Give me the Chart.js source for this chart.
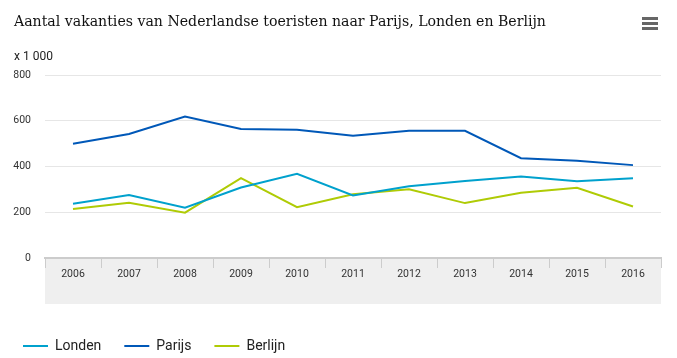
<!DOCTYPE html>
<html>
<head>
<meta charset="utf-8">
<title>Aantal vakanties</title>
<script src="https://cdn.jsdelivr.net/npm/chart.js@4/dist/chart.umd.min.js"></script>
<style>
  html, body { margin: 0; padding: 0; background: #fff; }
  #wrap { position: relative; width: 677px; height: 358px; }
</style>
</head>
<body>
<div id="wrap">
  <canvas id="vakantiesGraph" width="677" height="358"></canvas>
</div>
<script>
const titleText = "Aantal vakanties van Nederlandse toeristen naar Parijs, Londen en Berlijn";
const unitText = "x 1 000";
const years = ["2006", "2007", "2008", "2009", "2010", "2011", "2012", "2013", "2014", "2015", "2016"];
const londen = [237, 275, 220, 308, 368, 273, 314, 337, 356, 335, 349];
const parijs = [499, 542, 618, 564, 561, 534, 556, 556, 436, 425, 406];
const berlijn = [214, 241, 198, 349, 222, 279, 300, 240, 285, 307, 225];
const yTicks = [0, 200, 400, 600, 800];

const sansFont = "Roboto, 'Liberation Sans', sans-serif";

// grey band behind the year labels, title, unit label and the menu icon
const decorPlugin = {
  id: "decor",
  beforeDraw(chart) {
    const { ctx, chartArea } = chart;
    ctx.save();
    ctx.fillStyle = "#efefef";
    ctx.fillRect(chartArea.left, chartArea.bottom, chartArea.right - chartArea.left, 46);
    ctx.restore();
  },
  afterDraw(chart) {
    const ctx = chart.ctx;
    ctx.save();
    ctx.fillStyle = "#111";
    ctx.textBaseline = "alphabetic";
    ctx.font = "15.7px 'DejaVu Serif Condensed', 'DejaVu Serif', serif";
    ctx.fillText(titleText, 14, 26);

    ctx.font = "12px " + sansFont;
    ctx.fillStyle = "#222";
    ctx.textBaseline = "middle";
    ctx.fillText(unitText, 14, 57);

    ctx.fillStyle = "#666";
    [17, 22, 27].forEach((y) => {
      ctx.fillRect(642, y, 16, 3);
    });
    ctx.restore();
  },
};

function createGraph() {
  const ctx = document.getElementById("vakantiesGraph").getContext("2d");

  return new Chart(ctx, {
    type: "line",
    data: {
      labels: years,
      datasets: [
        { label: "Londen", data: londen, borderColor: "#00a1cd", backgroundColor: "#00a1cd" },
        { label: "Parijs", data: parijs, borderColor: "#0058b8", backgroundColor: "#0058b8" },
        { label: "Berlijn", data: berlijn, borderColor: "#afcb05", backgroundColor: "#afcb05" },
      ],
    },
    options: {
      responsive: false,
      animation: false,
      layout: {
        padding: { top: 75, left: 0, right: 16, bottom: 0 },
      },
      elements: {
        line: { borderWidth: 2, tension: 0 },
        point: { radius: 0, hoverRadius: 0 },
      },
      plugins: {
        tooltip: { enabled: false },
        legend: {
          position: "bottom",
          align: "start",
          maxHeight: 42,
          labels: {
            boxWidth: 25,
            boxHeight: 0,
            padding: 23,
            color: "#222",
            font: { family: sansFont, size: 14 },
          },
        },
      },
      scales: {
        x: {
          offset: true,
          grid: {
            offset: true,
            drawOnChartArea: false,
            drawTicks: true,
            tickLength: 10,
            color: "#cccccc",
          },
          border: { color: "#cccccc", width: 2 },
          ticks: {
            padding: 0,
            color: "#333",
            maxRotation: 0,
            font: { family: sansFont, size: 10.5 },
          },
          afterFit(scale) {
            scale.height = 58;
          },
        },
        y: {
          min: 0,
          max: 800,
          afterBuildTicks(scale) {
            scale.ticks = yTicks.map((v) => ({ value: v }));
          },
          grid: { color: "#e6e6e6", drawTicks: false },
          border: { display: false },
          ticks: {
            padding: 14,
            color: "#333",
            font: { family: sansFont, size: 10.5 },
          },
          afterFit(scale) {
            scale.width = 45;
          },
        },
      },
    },
    plugins: [decorPlugin],
  });
}

createGraph();
</script>
</body>
</html>
